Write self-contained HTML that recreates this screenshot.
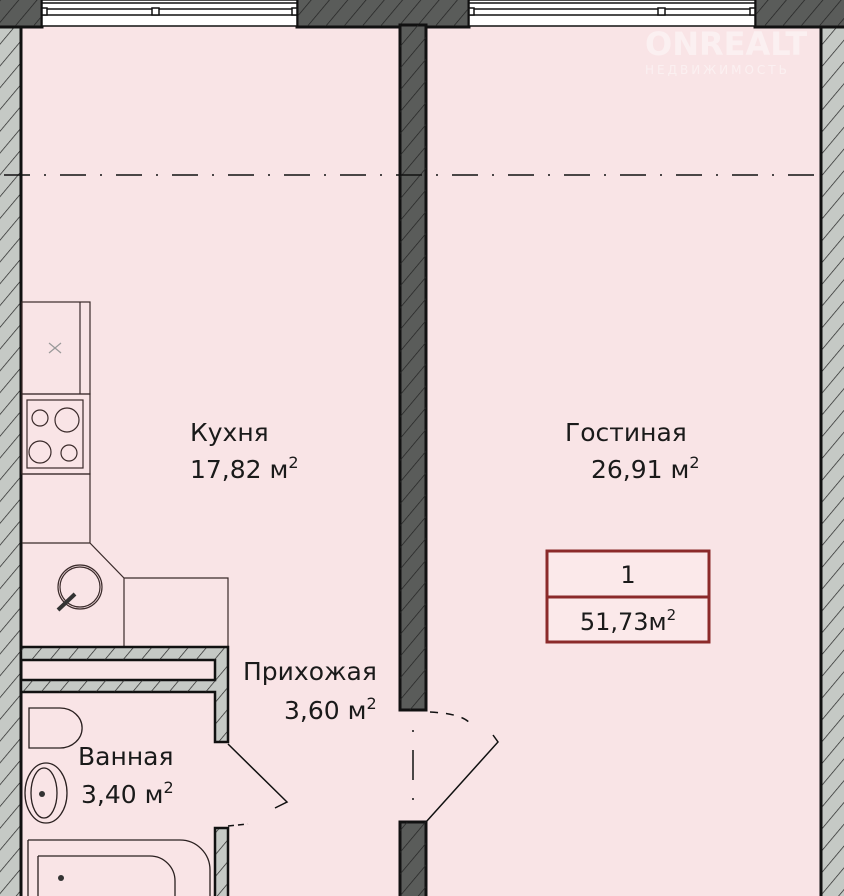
<!DOCTYPE html>
<html><head><meta charset="utf-8"><style>
html,body{margin:0;padding:0;background:#f9e4e6}
svg{display:block}
text{font-family:"DejaVu Sans","Liberation Sans",sans-serif;fill:#1a1a1a}
</style></head><body>
<svg width="844" height="896" viewBox="0 0 844 896" xmlns="http://www.w3.org/2000/svg">
<defs>
<pattern id="h" width="14" height="14" patternUnits="userSpaceOnUse" patternTransform="rotate(40)">
<line x1="0" y1="0" x2="0" y2="14" stroke="#222" stroke-width="1.4"/></pattern>
</defs>
<rect width="844" height="896" fill="#f9e4e6"/>
<rect x="0" y="27" width="20" height="869" fill="#c5c9c5"/>
<rect x="0" y="27" width="20" height="869" fill="url(#h)"/>
<line x1="21" y1="27" x2="21" y2="896" stroke="#111" stroke-width="3"/>
<rect x="822" y="27" width="22" height="869" fill="#c5c9c5"/>
<rect x="822" y="27" width="22" height="869" fill="url(#h)"/>
<line x1="821" y1="27" x2="821" y2="896" stroke="#111" stroke-width="3"/>
<g fill="#5a5c5a" stroke="#111" stroke-width="3">
<rect x="-2" y="-2" width="44" height="29"/>
<rect x="297" y="-2" width="172" height="29"/>
<rect x="755" y="-2" width="91" height="29"/>
</g>
<g fill="url(#h)"><rect x="0" y="0" width="42" height="26"/><rect x="297" y="0" width="172" height="26"/><rect x="755" y="0" width="89" height="26"/></g>
<g stroke="#111" stroke-width="1.5" fill="#fff">
<rect x="42" y="0" width="255" height="26"/>
<rect x="469" y="0" width="286" height="26"/>
<line x1="42" y1="3" x2="297" y2="3"/><line x1="42" y1="9" x2="297" y2="9"/><line x1="42" y1="15" x2="297" y2="15"/>
<line x1="469" y1="3" x2="755" y2="3"/><line x1="469" y1="9" x2="755" y2="9"/><line x1="469" y1="15" x2="755" y2="15"/>
<rect x="152" y="8" width="7" height="7"/><rect x="658" y="8" width="7" height="7"/>
<rect x="42" y="8" width="5" height="7"/><rect x="292" y="8" width="5" height="7"/>
<rect x="469" y="8" width="5" height="7"/><rect x="750" y="8" width="5" height="7"/>
</g>
<rect x="400" y="25" width="26" height="685" fill="#5a5c5a" stroke="#111" stroke-width="3"/>
<rect x="400" y="25" width="26" height="685" fill="url(#h)"/>
<rect x="400" y="822" width="26" height="80" fill="#5a5c5a" stroke="#111" stroke-width="3"/>
<rect x="400" y="822" width="26" height="80" fill="url(#h)"/>
<line x1="4" y1="175" x2="820" y2="175" stroke="#111" stroke-width="1.5" stroke-dasharray="26,14,2,14"/>
<g fill="none" stroke="#3a2a2a" stroke-width="1.2">
<rect x="22" y="302" width="68" height="92"/>
<line x1="80" y1="302" x2="80" y2="394"/>
<rect x="22" y="394" width="68" height="80"/>
<rect x="27" y="400" width="56" height="68"/>
<circle cx="40" cy="418" r="8"/><circle cx="67" cy="420" r="12"/>
<circle cx="40" cy="452" r="11"/><circle cx="69" cy="453" r="8"/>
<path d="M22 474 H90 V543 L124 578 H228 V646 M90 543 H22 M124 578 V646"/>
<circle cx="80" cy="587" r="22"/><circle cx="80" cy="587" r="20"/>
</g>
<line x1="49" y1="343" x2="61" y2="353" stroke="#999" stroke-width="1.2"/>
<line x1="61" y1="343" x2="49" y2="353" stroke="#999" stroke-width="1.2"/>
<line x1="58" y1="610" x2="75" y2="594" stroke="#333" stroke-width="4"/>
<g fill="#c5c9c5" stroke="#111" stroke-width="2.5">
<path d="M21 647 H228 V742 H215 V692 H21 V680 H215 V660 H21 Z"/>
<rect x="215" y="828" width="13" height="70"/>
</g>
<g fill="url(#h)"><path d="M21 648 H227 V741 H216 V692 H21 V680 H216 V660 H21 Z"/><rect x="216" y="829" width="11" height="70"/></g>
<g fill="none" stroke="#2a2020" stroke-width="1.3">
<path d="M29 708 H60 A21 19 0 0 1 60 748 H29 Z"/>
<ellipse cx="46" cy="793" rx="21" ry="30"/>
<ellipse cx="44" cy="793" rx="13" ry="25"/>
<path d="M28 840 H180 A30 30 0 0 1 210 870 V896 M28 840 V896"/>
<path d="M38 856 H150 A25 25 0 0 1 175 881 V896 M38 856 V896"/>
</g>
<circle cx="42" cy="794" r="3" fill="#333"/>
<circle cx="61" cy="878" r="3" fill="#333"/>
<g fill="none" stroke="#111" stroke-width="1.5">
<path d="M228 744 L287 802 L275 808"/>
<path d="M228 826 L248 824" stroke-dasharray="6,4"/>
<path d="M426 822 L498 742 L493 735"/>
<path d="M430 712 Q468 714 472 727" stroke-dasharray="8,8"/>
<line x1="413" y1="730" x2="413" y2="805" stroke-dasharray="2,18,30,18"/>
</g>
<g font-size="25">
<text x="190" y="441">Кухня</text>
<text x="190" y="478">17,82 м<tspan font-size="16" dy="-10">2</tspan></text>
<text x="565" y="441">Гостиная</text>
<text x="591" y="478">26,91 м<tspan font-size="16" dy="-10">2</tspan></text>
<text x="243" y="680">Прихожая</text>
<text x="284" y="719">3,60 м<tspan font-size="16" dy="-10">2</tspan></text>
<text x="78" y="765">Ванная</text>
<text x="81" y="803">3,40 м<tspan font-size="16" dy="-10">2</tspan></text>
</g>
<rect x="547" y="551" width="162" height="91" fill="#fbe9ea" stroke="#8b2a2a" stroke-width="3"/>
<line x1="547" y1="597" x2="709" y2="597" stroke="#8b2a2a" stroke-width="3"/>
<text x="628" y="583" font-size="24" text-anchor="middle" fill="#333">1</text>
<text x="628" y="630" font-size="24" text-anchor="middle" fill="#333">51,73м<tspan font-size="15" dy="-10">2</tspan></text>
<text x="645" y="55" font-size="32" font-weight="bold" style="fill:#fff" opacity="0.45">ONREALT</text>
<text x="645" y="74" font-size="12" style="fill:#fff" opacity="0.45" letter-spacing="3">НЕДВИЖИМОСТЬ</text>
</svg>
</body></html>
